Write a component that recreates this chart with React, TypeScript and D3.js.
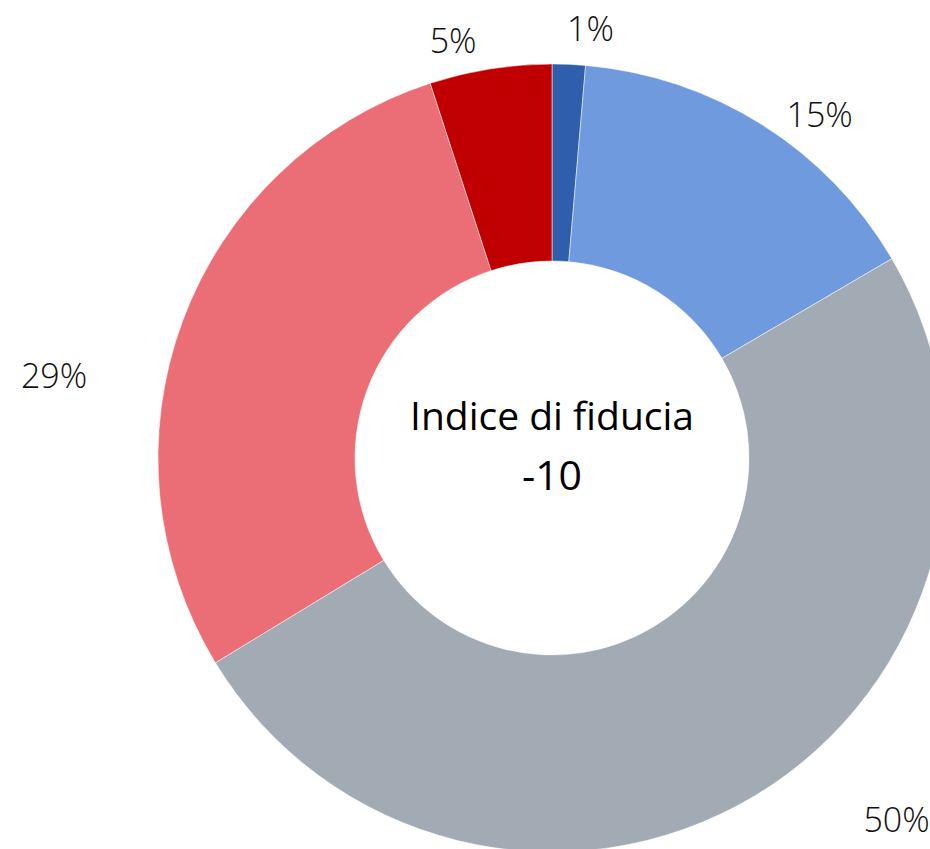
import React from "react";
import * as d3 from "d3";

const categories = ["Molto positivo", "Positivo", "Neutro", "Negativo", "Molto negativo"];
const values = [1.36, 15.2, 49.75, 28.7, 5.0];
const valueLabels = ["1%", "15%", "50%", "29%", "5%"];
const colors = ["#2E5EAC", "#6F9ADD", "#A2AAB3", "#EB6E76", "#C00000"];
const centerTitle = "Indice di fiducia";
const centerValue = "-10";
// layout nudges for the manually placed labels (pixels)
const labelNudges: [number, number][] = [[20, 4], [36, 24], [122, -11], [-91, 69], [-31, 11]];

const W = 930;
const H = 849;
const cx = 552;
const cy = 458;
const R = 394;
const r = 197;

export default function App() {
  const pie = d3.pie<number>().sort(null).value((d) => d);
  const arcs = pie(values);
  const arcGen = d3.arc<d3.PieArcDatum<number>>().innerRadius(r).outerRadius(R);
  const labelR = R + 40;
  return (
    <svg
      width={W}
      height={H}
      style={{ position: "absolute", left: 0, top: 0, background: "#fff" }}
    >
      <g transform={`translate(${cx},${cy})`}>
        {arcs.map((a, i) => (
          <path key={categories[i]} d={arcGen(a) || ""} fill={colors[i]} stroke="#fff" strokeWidth={0.5} />
        ))}
        {arcs.map((a, i) => {
          const mid = (a.startAngle + a.endAngle) / 2;
          const x = Math.sin(mid) * labelR + labelNudges[i][0];
          const y = -Math.cos(mid) * labelR + labelNudges[i][1];
          return (
            <text
              key={"l" + i}
              x={x}
              y={y}
              dy="0.36em"
              textAnchor="middle"
              fontFamily="'Open Sans', sans-serif"
              fontWeight={300}
              fontSize={34}
              fill="#111"
            >
              {valueLabels[i]}
            </text>
          );
        })}
        <text
          x={0}
          y={430 - cy}
          textAnchor="middle"
          fontFamily="'Open Sans', sans-serif"
          fontSize={39}
          fill="#000"
        >
          {centerTitle}
        </text>
        <text
          x={0}
          y={490 - cy}
          textAnchor="middle"
          fontFamily="'Open Sans', sans-serif"
          fontSize={41}
          fill="#000"
        >
          {centerValue}
        </text>
      </g>
    </svg>
  );
}
